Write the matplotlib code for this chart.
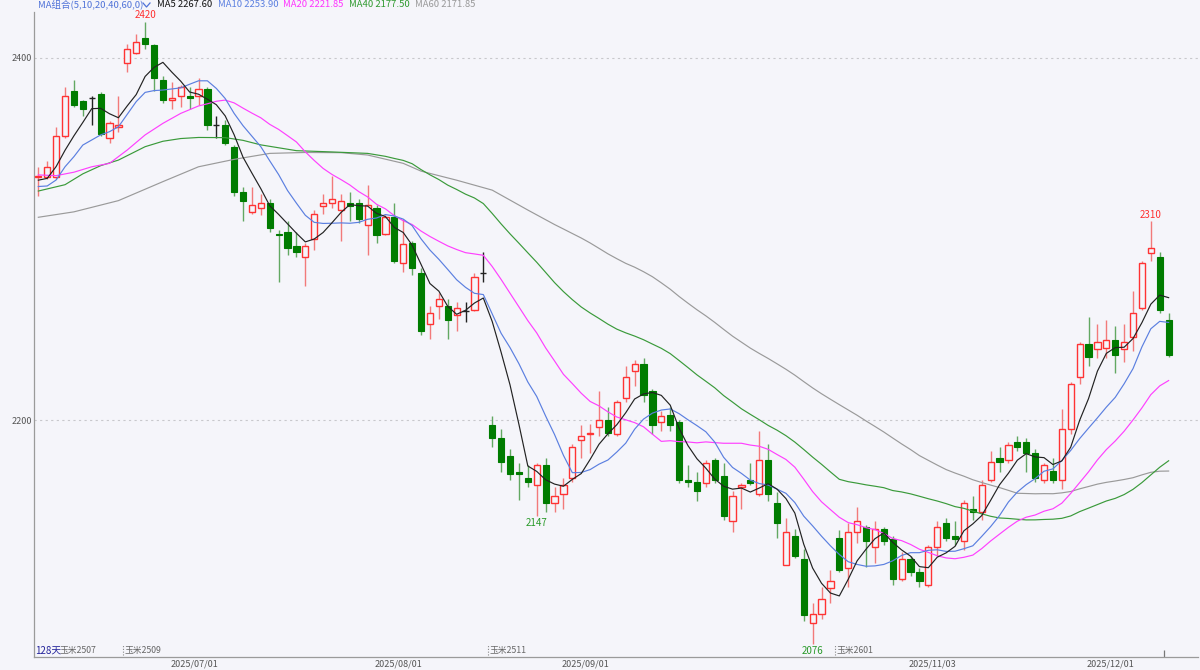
import numpy as np
import pandas as pd
import matplotlib
matplotlib.use("Agg")
import matplotlib.pyplot as plt
from matplotlib.lines import Line2D

plt.rcParams['font.family'] = ['Noto Sans CJK SC', 'DejaVu Sans']

# ---------------- data ----------------
opens = [2334, 2334, 2334, 2357, 2382, 2376, 2378, 2380, 2356, 2362,
         2397, 2403, 2411, 2407, 2388, 2377, 2379, 2379, 2379, 2383,
         2363, 2363, 2351, 2326, 2315, 2317, 2320, 2303, 2304, 2296,
         2290, 2300, 2318, 2320, 2316, 2320, 2320, 2308, 2317, 2303,
         2312, 2287, 2298, 2281, 2253, 2263, 2263, 2258, 2260, 2261,
         2281, 2197, 2190, 2180, 2171, 2168, 2164, 2175, 2154, 2159,
         2168, 2189, 2192, 2196, 2200, 2192, 2212, 2227, 2231, 2216,
         2199, 2203, 2199, 2167, 2166, 2165, 2178, 2169, 2144, 2163,
         2167, 2159, 2178, 2154, 2120, 2136, 2123, 2088, 2093, 2107,
         2135, 2118, 2138, 2141, 2130, 2140, 2134, 2112, 2123, 2116,
         2109, 2130, 2143, 2136, 2133, 2151, 2149, 2167, 2179, 2178,
         2188, 2188, 2182, 2167, 2172, 2167, 2195, 2224, 2242, 2239,
         2240, 2244, 2239, 2246, 2262, 2292, 2290, 2255]
highs = [2340, 2343, 2362, 2384, 2388, 2377, 2379, 2381, 2365, 2379,
         2408, 2413, 2420, 2408, 2390, 2387, 2385, 2384, 2389, 2384,
         2368, 2366, 2352, 2329, 2329, 2325, 2322, 2305, 2310, 2304,
         2298, 2316, 2325, 2335, 2325, 2326, 2322, 2330, 2319, 2313,
         2320, 2311, 2299, 2284, 2263, 2270, 2267, 2265, 2265, 2281,
         2293, 2202, 2195, 2184, 2176, 2175, 2176, 2179, 2163, 2168,
         2187, 2197, 2198, 2216, 2207, 2211, 2230, 2233, 2234, 2217,
         2205, 2207, 2200, 2175, 2171, 2178, 2179, 2176, 2161, 2165,
         2176, 2194, 2187, 2160, 2146, 2140, 2129, 2099, 2108, 2117,
         2139, 2143, 2152, 2142, 2144, 2141, 2136, 2127, 2125, 2118,
         2131, 2144, 2146, 2144, 2156, 2158, 2167, 2183, 2185, 2188,
         2191, 2190, 2184, 2176, 2179, 2206, 2221, 2243, 2257, 2253,
         2255, 2252, 2253, 2271, 2288, 2310, 2293, 2259]
lows = [2324, 2333, 2333, 2356, 2373, 2368, 2363, 2357, 2353, 2359,
        2392, 2402, 2405, 2382, 2375, 2372, 2373, 2372, 2374, 2360,
        2356, 2352, 2324, 2310, 2314, 2313, 2304, 2276, 2291, 2290,
        2274, 2294, 2314, 2317, 2299, 2310, 2309, 2291, 2298, 2302,
        2287, 2282, 2280, 2247, 2245, 2256, 2245, 2249, 2254, 2260,
        2276, 2185, 2171, 2167, 2156, 2163, 2147, 2149, 2149, 2151,
        2166, 2179, 2182, 2191, 2191, 2191, 2210, 2219, 2210, 2192,
        2194, 2194, 2165, 2163, 2155, 2163, 2165, 2145, 2138, 2151,
        2164, 2158, 2155, 2135, 2120, 2124, 2089, 2076, 2090, 2099,
        2116, 2108, 2132, 2119, 2121, 2131, 2109, 2111, 2114, 2108,
        2108, 2125, 2133, 2131, 2128, 2145, 2145, 2166, 2171, 2176,
        2183, 2171, 2166, 2165, 2165, 2162, 2192, 2220, 2230, 2234,
        2234, 2226, 2232, 2238, 2261, 2288, 2259, 2235]
closes = [2335, 2340, 2357, 2379, 2374, 2372, 2378, 2358, 2364, 2363,
          2405, 2409, 2408, 2389, 2377, 2378, 2384, 2378, 2383, 2363,
          2363, 2353, 2326, 2321, 2319, 2320, 2306, 2302, 2295, 2293,
          2296, 2314, 2320, 2322, 2321, 2318, 2311, 2319, 2302, 2312,
          2288, 2297, 2284, 2249, 2259, 2267, 2255, 2262, 2260, 2279,
          2281, 2190, 2177, 2170, 2170, 2166, 2175, 2154, 2158, 2164,
          2185, 2191, 2193, 2200, 2193, 2210, 2224, 2231, 2214, 2197,
          2202, 2197, 2167, 2166, 2161, 2176, 2167, 2147, 2158, 2164,
          2165, 2178, 2159, 2143, 2138, 2125, 2092, 2093, 2101, 2111,
          2117, 2138, 2144, 2133, 2140, 2133, 2112, 2123, 2116, 2111,
          2130, 2141, 2135, 2134, 2154, 2149, 2164, 2177, 2177, 2186,
          2185, 2182, 2168, 2175, 2167, 2195, 2220, 2242, 2235, 2243,
          2244, 2236, 2243, 2259, 2287, 2295, 2261, 2236]

# MA values before each window is complete: index -> value
ma5_early = {0: 2332.5, 1: 2333.5, 2: 2340.0, 3: 2349.0}
ma10_early = {0: 2329.0, 1: 2329.3, 2: 2332.6, 3: 2339.9, 4: 2345.5,
              5: 2351.9, 6: 2354.7, 7: 2357.5, 8: 2359.3}
ma20_early = {0: 2335.4, 2: 2335.0, 4: 2336.9, 6: 2339.9, 8: 2341.8,
              10: 2349.2, 12: 2357.5, 14: 2363.9, 16: 2369.4, 18: 2373.5}
ma40_early = {0: 2326.5, 3: 2330.0, 5: 2336.0, 7: 2340.5, 9: 2343.6,
              12: 2351.0, 14: 2354.0, 16: 2355.5, 18: 2356.1, 21: 2356.0,
              23: 2354.5, 25: 2352.0, 29: 2348.8, 33: 2348.1, 37: 2347.3}
ma60_early = {0: 2312.0, 4: 2315.0, 9: 2321.2, 14: 2331.7, 18: 2339.9,
              22: 2344.0, 26: 2347.3, 30: 2347.8, 34: 2347.7, 37: 2346.4,
              41: 2341.8, 43: 2337.5, 47: 2332.5, 51: 2327.0, 55: 2316.0,
              58: 2308.0}

date_idx = [18, 41, 62, 101, 121]
date_labels = ["2025/07/01", "2025/08/01", "2025/09/01", "2025/11/03", "2025/12/01"]
contract_idx = [10, 51, 90]
contract_labels = ["玉米2509", "玉米2511", "玉米2601"]
ytick_vals = [2200, 2400]

header = [("MA5 2267.60", "#111111", 156.7),
          ("MA10 2253.90", "#5b7fe0", 218.3),
          ("MA20 2221.85", "#ff33ff", 283.3),
          ("MA40 2177.50", "#2f9a2f", 349.3),
          ("MA60 2171.85", "#999999", 415.0)]

# ---------------- style ----------------
BG = "#f5f5fa"
UP = "#ff3333"
UP_WICK = "#f27a7a"
DN = "#007c00"
DN_WICK = "#62a862"
W, H = 1200, 670

fig = plt.figure(figsize=(12, 6.7), dpi=100, facecolor=BG)
AX_L, AX_R, AX_T, AX_B = 34.4, 1198.0, 12.0, 657.0
ax = fig.add_axes([AX_L / W, 1 - AX_B / H, (AX_R - AX_L) / W, (AX_B - AX_T) / H])
ax.set_facecolor(BG)
PPU = 1.81  # pixels per price unit
ax.set_xlim(-0.44, 130.3)
ax.set_ylim(2400 - (AX_B - 58) / PPU, 2400 + (58 - AX_T) / PPU)


def fpos(x, y):
    return x / W, 1 - y / H


n = len(closes)
xs = np.arange(n)
o = np.array(opens, float)
h = np.array(highs, float)
l = np.array(lows, float)
c = np.array(closes, float)

# wicks
wick_cols = []
for i in range(n):
    if c[i] > o[i]:
        wick_cols.append(UP_WICK)
    elif c[i] < o[i]:
        wick_cols.append(DN_WICK)
    else:
        wick_cols.append("#222222")
ax.vlines(xs, l, h, colors=wick_cols, linewidth=1.0, zorder=2)

# bodies
bw = 0.7
up = c > o
dn = c < o
eq = c == o
ax.bar(xs[up], (c - o)[up], bottom=o[up], width=bw, facecolor=BG,
       edgecolor=UP, linewidth=1.0, zorder=3)
ax.bar(xs[dn], (o - c)[dn], bottom=c[dn], width=bw, facecolor=DN,
       edgecolor=DN, linewidth=0.8, zorder=3)
ax.hlines(c[eq], xs[eq] - bw / 2, xs[eq] + bw / 2, colors="#222222",
          linewidth=1.0, zorder=3)

# moving averages
s = pd.Series(c)


def ma_line(w, early):
    comp = s.rolling(w).mean()
    xx = list(early.keys()) + list(range(w - 1, n))
    yy = list(early.values()) + list(comp.iloc[w - 1:])
    return xx, yy


for w, early, col in [(60, ma60_early, "#9a9a9a"),
                      (40, ma40_early, "#3a9a3a"),
                      (20, ma20_early, "#ff40ff"),
                      (10, ma10_early, "#5b7fe0"),
                      (5, ma5_early, "#222222")]:
    xx, yy = ma_line(w, early)
    ax.plot(xx, yy, color=col, linewidth=0.85, zorder=4)

# grid / axes
ax.set_yticks(ytick_vals)
ax.set_yticklabels([str(v) for v in ytick_vals], fontsize=6.5, color="#555555")
ax.tick_params(axis="y", length=0, pad=2)
ax.yaxis.grid(True, linestyle=(0, (2, 3)), color="#c8c8cc", linewidth=0.8)
ax.set_axisbelow(True)
ax.set_xticks([i - 0.5 for i in date_idx])
ax.set_xticklabels(date_labels, fontsize=6.5, color="#555555")
ax.tick_params(axis="x", length=0, pad=2.0)
for sp in ["top", "right"]:
    ax.spines[sp].set_visible(False)
for sp in ["left", "bottom"]:
    ax.spines[sp].set_color("#9a9a9a")
    ax.spines[sp].set_linewidth(0.9)

# high / low labels
imax = int(np.argmax(h))
ax.annotate(str(int(h[imax])), (imax, h[imax]), xytext=(0, 1.0), textcoords="offset points",
            ha="center", va="bottom", color="#ff3030", fontsize=7, zorder=6)
ax.annotate(str(int(h[125])), (125, h[125]), xytext=(0, 1.0), textcoords="offset points",
            ha="center", va="bottom", color="#ff3030", fontsize=7, zorder=6)
imin = int(np.argmin(l))
ax.annotate(str(int(l[imin])), (imin, l[imin]), xytext=(0, -1.2), textcoords="offset points",
            ha="center", va="top", color="#2a9a2a", fontsize=7, zorder=6)
ax.annotate(str(int(l[56])), (56, l[56]), xytext=(0, -1.2), textcoords="offset points",
            ha="center", va="top", color="#2a9a2a", fontsize=7, zorder=6)

# contract switch markers
y_lo = 2400 - (655 - 58) / PPU
y_hi = 2400 - (645 - 58) / PPU
y_txt = 2400 - (650.5 - 58) / PPU
for i, lab in zip(contract_idx, contract_labels):
    ax.vlines(i - 0.5, y_lo, y_hi, colors="#888888", linestyles=(0, (1, 1.5)), linewidth=0.8)
    ax.text(i - 0.3, y_txt, lab, fontsize=6.3, color="#666666", ha="left", va="center")
ax.vlines(126.5, 2400 - (AX_B - 58) / PPU, 2400 - (650 - 58) / PPU, colors="#777777", linewidth=0.9)

fig.text(*fpos(35, 650.5), "128天", fontsize=7, color="#22229a", ha="left", va="center")
fig.text(*fpos(59.5, 650.5), "玉米2507", fontsize=6.3, color="#666666", ha="left", va="center")

# header
fig.text(*fpos(37.7, 4.8), "MA组合(5,10,20,40,60,0)", fontsize=6.8, color="#4f72d8",
         ha="left", va="center")
fig.lines.append(Line2D([143 / W, 146.5 / W, 150 / W], [1 - 3 / H, 1 - 7 / H, 1 - 3 / H],
                        transform=fig.transFigure, color="#4f72d8", linewidth=0.9))
for txt, col, x in header:
    fig.text(*fpos(x, 4.8), txt, fontsize=6.8, color=col, ha="left", va="center")

fig.savefig("out.png", dpi=100, facecolor=BG)
